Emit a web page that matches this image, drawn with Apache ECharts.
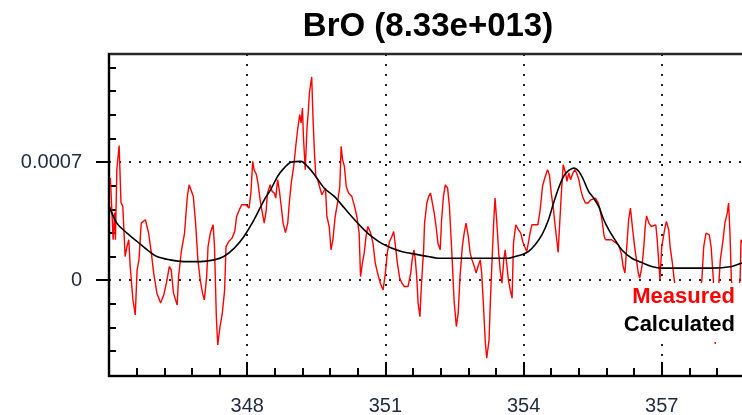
<!DOCTYPE html>
<html>
<head>
<meta charset="utf-8">
<script src="https://cdn.jsdelivr.net/npm/echarts@6/dist/echarts.min.js"></script>
<style>
  html, body { margin: 0; padding: 0; background: #fff; }
  #chart { width: 742px; height: 415px; }
</style>
</head>
<body>
<div id="chart"></div>
<script>
// wavelength (nm) and optical density of the measured spectrum
var measuredX = [345.03,345.09,345.12,345.14,345.17,345.22,345.26,345.30,345.35,345.39,345.43,345.46,345.52,345.57,345.61,345.65,345.70,345.79,345.86,345.92,345.97,
  346.04,346.12,346.19,346.26,346.31,346.35,346.40,346.48,346.51,346.57,346.64,346.70,346.74,346.78,346.83,346.88,346.93,346.98,
  347.03,347.07,347.12,347.15,347.20,347.26,347.29,347.33,347.36,347.41,347.46,347.51,347.54,347.60,347.67,347.73,347.77,347.83,347.88,347.97,
  348.04,348.08,348.12,348.15,348.20,348.24,348.28,348.33,348.37,348.41,348.44,348.50,348.54,348.59,348.62,348.66,348.70,348.73,348.78,348.83,348.88,348.92,348.96,
  349.01,349.05,349.09,349.14,349.17,349.20,349.22,349.26,349.30,349.33,349.35,349.40,349.43,349.46,349.49,349.53,349.57,349.62,349.66,349.70,349.73,349.78,349.82,349.86,349.91,349.96,
  350.01,350.04,350.07,350.11,350.15,350.20,350.27,350.33,350.38,350.43,350.46,350.50,350.54,350.58,350.62,350.68,350.73,350.78,350.83,350.89,350.95,
  351.00,351.04,351.09,351.14,351.18,351.22,351.26,351.31,351.36,351.41,351.49,351.55,351.58,351.62,351.65,351.68,351.71,351.75,351.78,351.83,351.85,351.90,351.94,351.98,
  352.02,352.06,352.10,352.14,352.19,352.22,352.26,352.30,352.35,352.39,352.42,352.45,352.49,352.54,352.58,352.62,352.67,352.71,352.75,352.80,352.84,352.88,352.93,352.97,
  353.01,353.06,353.09,353.13,353.17,353.20,353.25,353.28,353.31,353.35,353.38,353.42,353.46,353.49,353.53,353.57,353.60,353.64,353.67,353.71,353.75,353.78,353.83,353.89,353.94,353.98,
  354.02,354.07,354.11,354.14,354.18,354.31,354.36,354.41,354.46,354.52,354.56,354.60,354.65,354.67,354.72,354.75,354.78,354.82,354.86,354.91,354.94,354.98,
  355.02,355.07,355.11,355.15,355.20,355.24,355.28,355.34,355.40,355.46,355.56,355.62,355.66,355.70,355.75,355.78,355.91,
  356.06,356.12,356.16,356.20,356.24,356.28,356.32,356.36,356.41,356.45,356.49,356.52,356.57,356.61,356.64,356.67,356.72,356.77,356.87,356.90,356.93,356.96,
  357.00,357.06,357.10,357.15,357.18,357.23,357.27,357.35,357.48,357.61,357.74,357.87,357.91,357.96,
  358.03,358.07,358.12,358.16,358.22,358.27,358.33,358.37,358.42,358.45,358.48,358.51,358.59,358.70,358.72,358.80];
var measuredY = [6.05e-4,2.39e-4,3.99e-4,2.39e-4,6.54e-4,7.97e-4,4.59e-4,4.37e-4,1.40e-4,1.99e-4,2.39e-4,0.81e-4,-1.17e-4,-2.06e-4,0.61e-4,1.20e-4,3.38e-4,3.58e-4,2.79e-4,1.60e-4,0.42e-4,
  -0.77e-4,-1.36e-4,-0.87e-4,0.02e-4,0.81e-4,0.61e-4,-0.77e-4,-1.47e-4,0.21e-4,1.70e-4,2.79e-4,4.96e-4,5.65e-4,5.75e-4,4.96e-4,3.38e-4,1.20e-4,0.02e-4,
  -0.77e-4,-1.17e-4,0.21e-4,1.99e-4,2.79e-4,3.28e-4,1.99e-4,-2.16e-4,-3.84e-4,-2.75e-4,-1.96e-4,-0.58e-4,1.99e-4,2.29e-4,2.49e-4,2.88e-4,3.77e-4,4.17e-4,4.47e-4,4.47e-4,
  4.27e-4,5.16e-4,7.04e-4,6.54e-4,6.25e-4,5.65e-4,4.76e-4,3.97e-4,3.38e-4,4.07e-4,5.16e-4,5.65e-4,5.26e-4,5.16e-4,4.86e-4,5.95e-4,5.26e-4,4.57e-4,3.38e-4,2.82e-4,3.38e-4,4.76e-4,5.85e-4,
  6.74e-4,7.83e-4,8.81e-4,9.81e-4,9.31e-4,10.20e-4,8.52e-4,6.54e-4,9.11e-4,10.10e-4,11.09e-4,12.04e-4,9.51e-4,7.53e-4,6.15e-4,5.95e-4,5.55e-4,5.06e-4,5.16e-4,5.46e-4,3.77e-4,3.18e-4,1.80e-4,2.39e-4,3.77e-4,4.57e-4,
  5.55e-4,7.93e-4,7.14e-4,6.74e-4,5.55e-4,5.16e-4,4.96e-4,4.37e-4,3.77e-4,2.79e-4,0.21e-4,1.01e-4,1.60e-4,2.59e-4,3.18e-4,2.79e-4,2.19e-4,1.01e-4,0.42e-4,-0.18e-4,-0.58e-4,
  0.42e-4,1.60e-4,2.29e-4,2.59e-4,2.88e-4,1.99e-4,1.01e-4,0.12e-4,-0.18e-4,-0.38e-4,-0.38e-4,0.42e-4,1.20e-4,1.80e-4,1.20e-4,0.21e-4,-1.36e-4,-2.16e-4,-0.38e-4,1.80e-4,3.38e-4,4.57e-4,4.96e-4,5.16e-4,
  4.57e-4,3.97e-4,3.18e-4,2.19e-4,1.80e-4,3.58e-4,4.96e-4,5.65e-4,5.46e-4,4.37e-4,2.79e-4,1.20e-4,-1.17e-4,-2.75e-4,-1.96e-4,0.21e-4,1.99e-4,2.79e-4,3.38e-4,2.59e-4,1.60e-4,1.20e-4,0.81e-4,0.42e-4,
  0.81e-4,1.20e-4,0.42e-4,-1.57e-4,-3.74e-4,-4.63e-4,-3.54e-4,-1.17e-4,0.81e-4,3.38e-4,4.86e-4,3.38e-4,1.60e-4,0.61e-4,-0.18e-4,1.20e-4,1.80e-4,0.81e-4,0.02e-4,-0.58e-4,-1.07e-4,2.19e-4,3.28e-4,2.98e-4,2.79e-4,2.29e-4,
  1.99e-4,1.70e-4,1.60e-4,2.79e-4,3.28e-4,3.28e-4,4.17e-4,5.55e-4,6.05e-4,6.54e-4,6.25e-4,5.16e-4,4.17e-4,3.58e-4,2.39e-4,1.64e-4,3.18e-4,5.16e-4,6.84e-4,6.35e-4,5.85e-4,6.35e-4,
  5.95e-4,6.35e-4,6.54e-4,6.35e-4,5.95e-4,5.36e-4,4.96e-4,4.57e-4,4.57e-4,4.76e-4,4.86e-4,4.57e-4,4.17e-4,3.58e-4,2.59e-4,2.39e-4,2.39e-4,
  2.09e-4,1.60e-4,0.81e-4,0.42e-4,1.99e-4,3.58e-4,4.27e-4,3.18e-4,1.99e-4,1.20e-4,0.42e-4,0.12e-4,0.81e-4,1.99e-4,3.18e-4,3.81e-4,3.38e-4,3.18e-4,3.28e-4,2.39e-4,1.20e-4,0.02e-4,
  1.99e-4,2.98e-4,3.48e-4,2.98e-4,1.99e-4,1.01e-4,0.02e-4,-1.5e-4,-2.5e-4,-1.0e-4,-2.0e-4,0.02e-4,1.99e-4,2.79e-4,
  2.69e-4,1.99e-4,0.02e-4,-3.78e-4,-1.0e-4,1.20e-4,2.39e-4,3.38e-4,3.97e-4,4.57e-4,2.79e-4,0.02e-4,-1.5e-4,0.02e-4,2.39e-4,2.0e-4];

// fitted (calculated) spectrum
var calcX = [345.00,345.17,345.39,345.61,345.83,346.04,346.33,346.62,346.98,347.28,347.49,347.72,347.93,348.15,348.37,348.51,348.66,348.80,348.95,349.17,349.31,349.46,349.67,349.89,
  350.11,350.33,350.54,350.70,350.91,351.13,351.35,351.64,351.93,352.14,352.61,353.30,353.67,353.82,353.96,354.11,354.25,354.40,354.54,354.65,354.76,354.87,354.98,
  355.09,355.20,355.30,355.41,355.52,355.63,355.74,355.85,355.96,356.13,356.35,356.57,356.78,357.00,358.09,358.52,358.74,359.00];
var calcY = [4.40e-4,3.38e-4,2.79e-4,2.29e-4,1.80e-4,1.40e-4,1.20e-4,1.10e-4,1.10e-4,1.20e-4,1.40e-4,1.90e-4,2.59e-4,3.58e-4,4.76e-4,5.36e-4,6.15e-4,6.64e-4,6.98e-4,7.04e-4,6.74e-4,6.25e-4,5.46e-4,4.96e-4,
  4.27e-4,3.58e-4,2.98e-4,2.59e-4,2.19e-4,1.90e-4,1.70e-4,1.54e-4,1.40e-4,1.30e-4,1.30e-4,1.30e-4,1.30e-4,1.40e-4,1.50e-4,1.70e-4,2.09e-4,2.69e-4,3.58e-4,4.57e-4,5.46e-4,6.15e-4,6.50e-4,
  6.64e-4,6.44e-4,5.95e-4,5.26e-4,4.86e-4,4.37e-4,3.58e-4,2.98e-4,2.49e-4,1.80e-4,1.30e-4,1.04e-4,0.81e-4,0.71e-4,0.71e-4,0.81e-4,1.01e-4,1.15e-4];

var xLabels = [348, 351, 354, 357];
var yLabels = [0, 0.0007];
var yMinor = [-0.00042, -0.00028, -0.00014, 0.00014, 0.00028, 0.00042, 0.00056, 0.00084, 0.00098, 0.00112, 0.00126];

function pairs(xs, ys) {
  var out = [];
  for (var i = 0; i < xs.length; i++) out.push([xs[i], ys[i]]);
  return out;
}

var chart = echarts.init(document.getElementById('chart'));
var dotted = { color: '#222', width: 2, type: [2, 8] };
var labelFont = { fontFamily: 'Liberation Sans, Arial, sans-serif', fontSize: 20, color: '#1e2a40' };

var option = {
  animation: false,
  backgroundColor: '#fff',
  title: {
    text: 'BrO (8.33e+013)',
    left: 423,
    top: 5,
    textAlign: 'center',
    textStyle: { fontFamily: 'Liberation Sans, Arial, sans-serif', fontSize: 33, fontWeight: 'bold', color: '#000' }
  },
  legend: {
    orient: 'vertical',
    right: 0,
    top: 283,
    icon: 'none',
    itemWidth: 0,
    itemGap: 6,
    align: 'right',
    padding: [3, 2, 6, 8],
    backgroundColor: '#fff',
    selectedMode: false,
    textStyle: { fontFamily: 'Liberation Sans, Arial, sans-serif', fontSize: 22, fontWeight: 'bold', padding: 0 },
    data: [
      { name: 'Measured', textStyle: { color: '#ff0000' } },
      { name: 'Calculated', textStyle: { color: '#000' } }
    ]
  },
  // plot area runs past the right edge of the window (360 nm sits off screen)
  grid: {
    left: 109, top: 54, width: 691, height: 322,
    outerBoundsMode: 'none',
    containLabel: false,
    show: true, borderColor: '#2a2a2a', borderWidth: 2.5, backgroundColor: '#fff'
  },
  xAxis: {
    type: 'value',
    min: 345, max: 360, interval: 3,
    axisLine: { onZero: false, lineStyle: { color: '#000', width: 2 } },
    axisTick: { show: true, inside: true, length: 14, lineStyle: { color: '#000', width: 2 } },
    minorTick: { show: true, splitNumber: 5, length: 8, lineStyle: { color: '#000', width: 2 } },
    axisLabel: { customValues: xLabels, margin: 20, ...labelFont },
    splitLine: { show: true, lineStyle: dotted }
  },
  yAxis: [
    {
      type: 'value', position: 'left',
      min: -0.000568, max: 0.00134,
      axisLine: { show: true, lineStyle: { color: '#000', width: 2 } },
      axisTick: { customValues: yLabels, inside: false, length: 13, lineStyle: { color: '#000', width: 2 } },
      axisLabel: { customValues: yLabels, margin: 27, ...labelFont },
      splitLine: { show: true, lineStyle: dotted }
    },
    {
      type: 'value', position: 'left',
      min: -0.000568, max: 0.00134,
      axisLine: { show: false },
      axisTick: { customValues: yMinor, inside: true, length: 7, lineStyle: { color: '#000', width: 2 } },
      axisLabel: { show: false },
      splitLine: { show: false }
    }
  ],
  series: [
    {
      name: 'Measured', type: 'line', yAxisIndex: 0,
      data: pairs(measuredX, measuredY),
      showSymbol: false, symbol: 'none',
      lineStyle: { color: '#ff0000', width: 1.4 },
      itemStyle: { color: '#ff0000' },
      z: 2
    },
    {
      name: 'Calculated', type: 'line', yAxisIndex: 0,
      data: pairs(calcX, calcY),
      showSymbol: false, symbol: 'none', smooth: 0.3,
      lineStyle: { color: '#000', width: 1.6 },
      itemStyle: { color: '#000' },
      z: 3
    }
  ]
};
chart.setOption(option);
</script>
</body>
</html>
